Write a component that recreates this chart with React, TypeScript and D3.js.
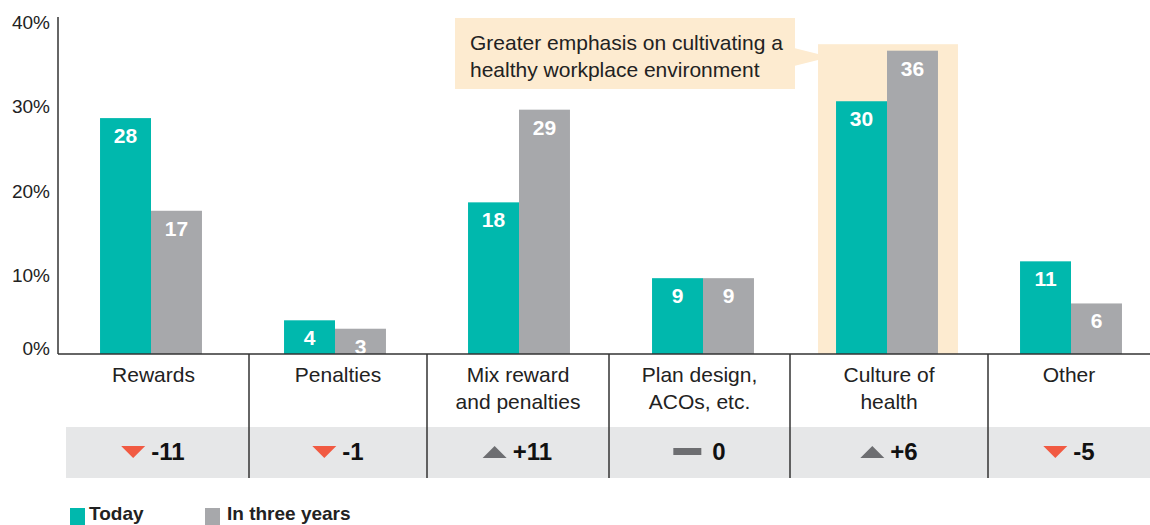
import React from "react";
import * as d3 from "d3";

const categories = ["Rewards", "Penalties", "Mix reward|and penalties", "Plan design,|ACOs, etc.", "Culture of|health", "Other"];
const today = [28, 4, 18, 9, 30, 11];
const inThreeYears = [17, 3, 29, 9, 36, 6];
const yTicks = [0, 10, 20, 30, 40];
const seriesNames = ["Today", "In three years"];
const annotationLines = ["Greater emphasis on cultivating a", "healthy workplace environment"];
const highlightIndex = 4;

const W = 1150;
const H = 525;
const TEAL = "#00b8ad";
const GRAY = "#a7a8ab";
const PEACH = "#fdebd0";
const BAND = "#e6e7e8";
const RED = "#f15a42";
const DARK = "#6d6e71";
const AXIS = "#333";
const FONT = "'Liberation Sans', Arial, sans-serif";
// small layout nudges of the column separators from the band midpoints
const SEP_NUDGE = [6, 0, -2, -5, 9];

const boldW: Record<string, number> = { "+": 584, "-": 333 };
function boldWidth(s: string, size: number) {
  let t = 0;
  for (const c of s) t += boldW[c] ?? 556;
  return (t * size) / 1000;
}

export default function App() {
  const axisX = 58;
  const baseY = 354;
  const y = d3.scaleLinear().domain([0, 40]).range([baseY, 17]);
  const x = d3
    .scaleBand<string>()
    .domain(categories)
    .range([59, 59 + 184 * categories.length])
    .paddingInner(0.446)
    .paddingOuter(0.223);
  const bw = x.bandwidth() / 2;
  const centers = categories.map((c) => (x(c) as number) + x.bandwidth() / 2);
  const bounds = [axisX];
  for (let i = 0; i < centers.length - 1; i++) bounds.push((centers[i] + centers[i + 1]) / 2 + (SEP_NUDGE[i] ?? 0));
  bounds.push(W);
  const colCenters = categories.map((_, i) => (bounds[i] + bounds[i + 1]) / 2);
  const deltas = today.map((t, i) => inThreeYears[i] - t);

  const hx0 = centers[highlightIndex] - bw - 18;
  const hx1 = centers[highlightIndex] + bw + 20;
  const hy = y(36) - 6.5;

  return (
    <svg width={W} height={H} style={{ position: "absolute", left: 0, top: 0, fontFamily: FONT }}>
      <rect x={0} y={0} width={W} height={H} fill="#fff" />
      {/* highlight */}
      <rect x={hx0} y={hy} width={hx1 - hx0} height={baseY - hy} fill={PEACH} />
      {/* annotation */}
      <rect x={455} y={18} width={340} height={71} fill={PEACH} />
      <polygon points={`794,48 ${hx0},54 ${hx0},60 794,66`} fill={PEACH} />
      {annotationLines.map((l, i) => (
        <text key={i} x={470} y={50 + i * 27} fontSize={21} fill="#222">
          {l}
        </text>
      ))}
      {/* bars */}
      {categories.map((c, i) => {
        const x0 = x(c) as number;
        return (
          <g key={c}>
            <rect x={x0} y={y(today[i])} width={bw} height={baseY - y(today[i])} fill={TEAL} />
            <rect x={x0 + bw} y={y(inThreeYears[i])} width={bw} height={baseY - y(inThreeYears[i])} fill={GRAY} />
            <text x={x0 + bw / 2} y={y(today[i]) + 25} textAnchor="middle" fontSize={21} fontWeight="bold" fill="#fff">
              {today[i]}
            </text>
            <text x={x0 + bw * 1.5} y={y(inThreeYears[i]) + 25} textAnchor="middle" fontSize={21} fontWeight="bold" fill="#fff">
              {inThreeYears[i]}
            </text>
          </g>
        );
      })}
      {/* delta band */}
      <rect x={66} y={427} width={W - 66} height={51} fill={BAND} />
      {/* axes */}
      <line x1={axisX} x2={axisX} y1={17} y2={baseY} stroke={AXIS} strokeWidth={1.5} />
      <line x1={axisX} x2={W} y1={baseY} y2={baseY} stroke={AXIS} strokeWidth={1.5} />
      {bounds.slice(1, -1).map((b, i) => (
        <line key={i} x1={b} x2={b} y1={baseY} y2={478} stroke={AXIS} strokeWidth={1.5} />
      ))}
      {yTicks.map((t) => (
        <text key={t} x={50} y={y(t) + (t === 0 ? 1 : 12)} textAnchor="end" fontSize={19} fill="#222">
          {t}%
        </text>
      ))}
      {/* category labels */}
      {categories.map((c, i) =>
        c.split("|").map((line, j) => (
          <text key={c + j} x={colCenters[i]} y={382 + j * 27} textAnchor="middle" fontSize={21} fill="#222">
            {line}
          </text>
        ))
      )}
      {/* deltas */}
      {deltas.map((d, i) => {
        const label = d > 0 ? `+${d}` : `${d}`;
        const tw = boldWidth(label, 24);
        const iconW = d === 0 ? 28 : 24;
        const gap = d === 0 ? 11 : 6;
        const start = colCenters[i] - (iconW + gap + tw) / 2;
        let icon;
        if (d < 0)
          icon = <polygon points={`${start},446 ${start + 24},446 ${start + 12},458`} fill={RED} />;
        else if (d > 0)
          icon = <polygon points={`${start},458 ${start + 24},458 ${start + 12},446`} fill={DARK} />;
        else icon = <rect x={start} y={448} width={28} height={7} fill={DARK} />;
        return (
          <g key={i}>
            {icon}
            <text x={start + iconW + gap} y={460} fontSize={24} fontWeight="bold" fill="#111">
              {label}
            </text>
          </g>
        );
      })}
      {/* legend */}
      <rect x={70} y={508} width={15} height={17} fill={TEAL} />
      <text x={89} y={520} fontSize={19} fontWeight="bold" fill="#222">
        {seriesNames[0]}
      </text>
      <rect x={205} y={508} width={15} height={17} fill={GRAY} />
      <text x={227} y={520} fontSize={19} fontWeight="bold" fill="#222">
        {seriesNames[1]}
      </text>
    </svg>
  );
}
